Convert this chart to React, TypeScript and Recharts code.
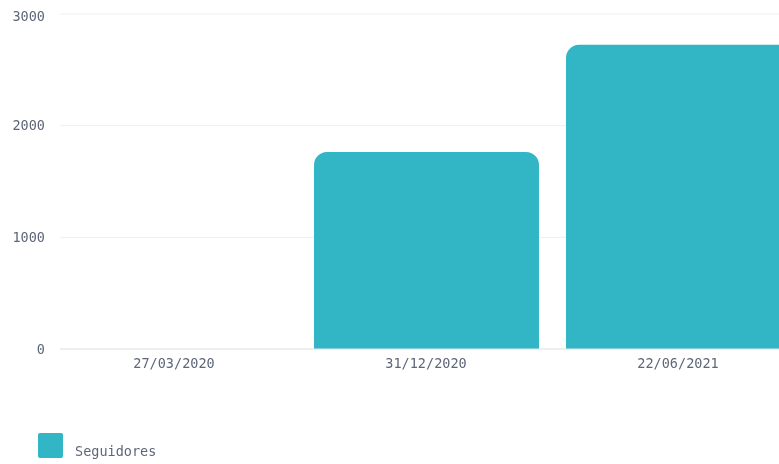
import { BarChart, Bar, XAxis, YAxis, CartesianGrid, Legend } from 'recharts'

const dates = ['27/03/2020', '31/12/2020', '22/06/2021']
const seguidores = [0, 1764, 2724]
const yTicks = [0, 1000, 2000, 3000]

const font = '"DejaVu Sans Mono", "Liberation Mono", monospace'
const textColor = '#5e6779'
const barColor = '#32b5c4'

const data = dates.map((date, i) => ({ date, seguidores: seguidores[i] }))

const LegendContent = () => (
    <div style={{ display: 'flex', alignItems: 'flex-end', height: 25 }}>
        <div style={{ width: 25, height: 25, background: barColor, borderRadius: 2 }} />
        <span style={{ marginLeft: 12, fontFamily: font, fontSize: 13.5, color: textColor, lineHeight: '16px', marginBottom: -1 }}>
            Seguidores
        </span>
    </div>
)

export default function App() {
    // the chart runs past the right edge of the window, so no scrollbars
    return (
        <div style={{ position: 'fixed', left: 0, top: 0, width: 779, height: 464, overflow: 'hidden' }}>
            <style>{'html, body { overflow: hidden; }'}</style>
            <div style={{ position: 'absolute', left: 8, top: 8 }}>
                <BarChart
                    width={796}
                    height={456}
                    data={data}
                    margin={{ top: 6, right: 0, bottom: 6, left: 0 }}
                >
                    <CartesianGrid vertical={false} stroke="#efefef" />
                    <XAxis
                        dataKey="date"
                        padding={{ left: -12, right: 0 }}
                        height={84}
                        tickLine={false}
                        axisLine={{ stroke: '#e3e5e8' }}
                        tickMargin={3}
                        tick={{ fill: textColor, fontFamily: font, fontSize: 13.5 }}
                    />
                    <YAxis
                        width={52}
                        domain={[0, 3000]}
                        ticks={yTicks}
                        axisLine={false}
                        tickLine={false}
                        tickMargin={9}
                        tick={{ fill: textColor, fontFamily: font, fontSize: 13.5 }}
                    />
                    <Legend
                        verticalAlign="bottom"
                        align="left"
                        content={<LegendContent />}
                        wrapperStyle={{ left: 30, bottom: 6, height: 25 }}
                    />
                    <Bar
                        dataKey="seguidores"
                        name="Seguidores"
                        fill={barColor}
                        barSize={225}
                        radius={[13, 13, 0, 0]}
                        isAnimationActive={false}
                    />
                </BarChart>
            </div>
        </div>
    )
}
